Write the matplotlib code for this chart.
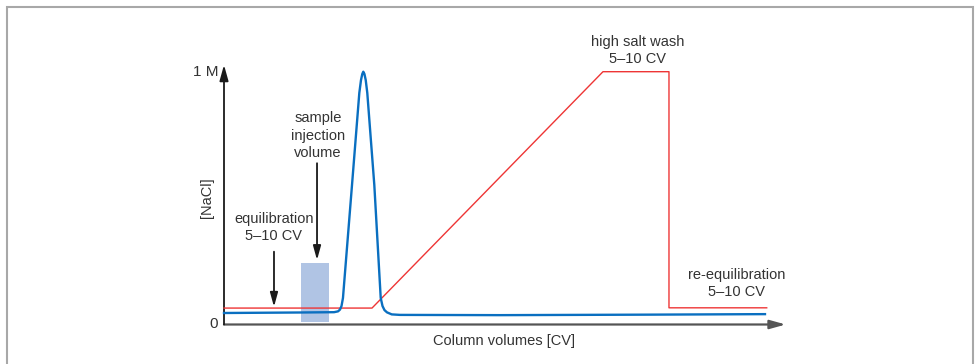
import matplotlib
matplotlib.use("Agg")
from matplotlib import pyplot as plt
from matplotlib.patches import Rectangle

# elution profile (UV trace) - x in arbitrary CV units, y in fraction of 1 M
blue_x = [0, 13.5, 19.6, 20.3, 20.65, 20.92, 21.18, 22.79, 24.09, 24.39, 24.62, 24.8,
          25.0, 25.23, 25.51, 26.76, 27.9, 28.22, 28.57, 29.02, 29.86, 31.33, 49.14, 75.84, 96.31]
blue_y = [0.0455, 0.0475, 0.0487, 0.052, 0.059, 0.073, 0.105, 0.552, 0.916, 0.967, 0.991, 1.0,
          0.991, 0.967, 0.916, 0.552, 0.105, 0.073, 0.057, 0.048, 0.040, 0.038, 0.037, 0.039, 0.041]

# salt gradient
red_x = [0, 26.35, 67.47, 79.22, 79.22, 96.62]
red_y = [0.065, 0.065, 1.0, 1.0, 0.066, 0.066]

# sample injection volume
box_x = [13.71, 18.69]
box_y = [0.011, 0.243]

y_ticks = [0, 1]
y_tick_labels = ['0', '1 M']

TXT = '#333333'
plt.rcParams['font.family'] = ['Liberation Sans', 'DejaVu Sans']
plt.rcParams['font.size'] = 10.5


def main():
    fig = plt.figure(figsize=(9.75, 3.64), dpi=100)
    W, H = 975, 364
    # place the axes so that the data box matches the drawing
    x0, x1 = 224, 785.7
    y0, y1 = 324.5, 71.7
    ax = fig.add_axes([x0 / W, (H - y0) / H, (x1 - x0) / W, (y0 - y1) / H])
    ax.set_xlim(0, 100)
    ax.set_ylim(0, 1)
    ax.axis('off')

    # outer frame
    fig.add_artist(Rectangle((7 / W, -0.1), (972.5 - 7) / W, (H - 6.5) / H + 0.1,
                             transform=fig.transFigure, fill=False,
                             edgecolor='#a8a8a8', lw=1.5))

    # axes with arrow heads
    ax.annotate('', xy=(100, 0), xytext=(0, 0), annotation_clip=False,
                arrowprops=dict(arrowstyle='-|>,head_length=0.9,head_width=0.25',
                                color='#555555', lw=1.6, shrinkA=0, shrinkB=0))
    ax.annotate('', xy=(0, 1.027), xytext=(0, 0), annotation_clip=False,
                arrowprops=dict(arrowstyle='-|>,head_length=0.9,head_width=0.25',
                                color='#1a1a1a', lw=1.3, shrinkA=0, shrinkB=0))

    for v, lab in zip(y_ticks, y_tick_labels):
        ax.text(-1.05, v, lab, ha='right', va='center', color=TXT, fontsize=11)
    ax.text(-3.0, 0.5, '[NaCl]', rotation=90, ha='center', va='center', color=TXT)
    ax.text(49.9, -0.065, 'Column volumes [CV]', ha='center', va='center', color=TXT)

    ax.add_patch(Rectangle((box_x[0], box_y[0]), box_x[1] - box_x[0], box_y[1] - box_y[0],
                           facecolor='#b0c4e4', edgecolor='none', zorder=1))

    ax.plot(red_x, red_y, color='#ee3535', lw=1.0, zorder=3, clip_on=False)
    ax.plot(blue_x, blue_y, color='#0a6fc0', lw=1.7, zorder=4, clip_on=False,
            solid_joinstyle='round')

    arrow = dict(arrowstyle='-|>,head_length=0.8,head_width=0.22', color='#1a1a1a',
                 lw=1.3, shrinkA=0, shrinkB=0)
    ax.annotate('', xy=(16.56, 0.255), xytext=(16.56, 0.638), arrowprops=arrow)
    ax.annotate('', xy=(8.9, 0.070), xytext=(8.9, 0.288), arrowprops=arrow)

    ax.text(8.85, 0.383, 'equilibration\n5–10 CV', ha='center', va='center',
            color=TXT, linespacing=1.3)
    ax.text(16.7, 0.747, 'sample\ninjection\nvolume', ha='center', va='center',
            color=TXT, linespacing=1.3)
    ax.text(73.7, 1.083, 'high salt wash\n5–10 CV', ha='center', va='center',
            color=TXT, linespacing=1.3, clip_on=False)
    ax.text(91.2, 0.163, 're-equilibration\n5–10 CV', ha='center', va='center',
            color=TXT, linespacing=1.3)

    fig.savefig('out.png', dpi=100, facecolor='white')


if __name__ == "__main__":
    main()
